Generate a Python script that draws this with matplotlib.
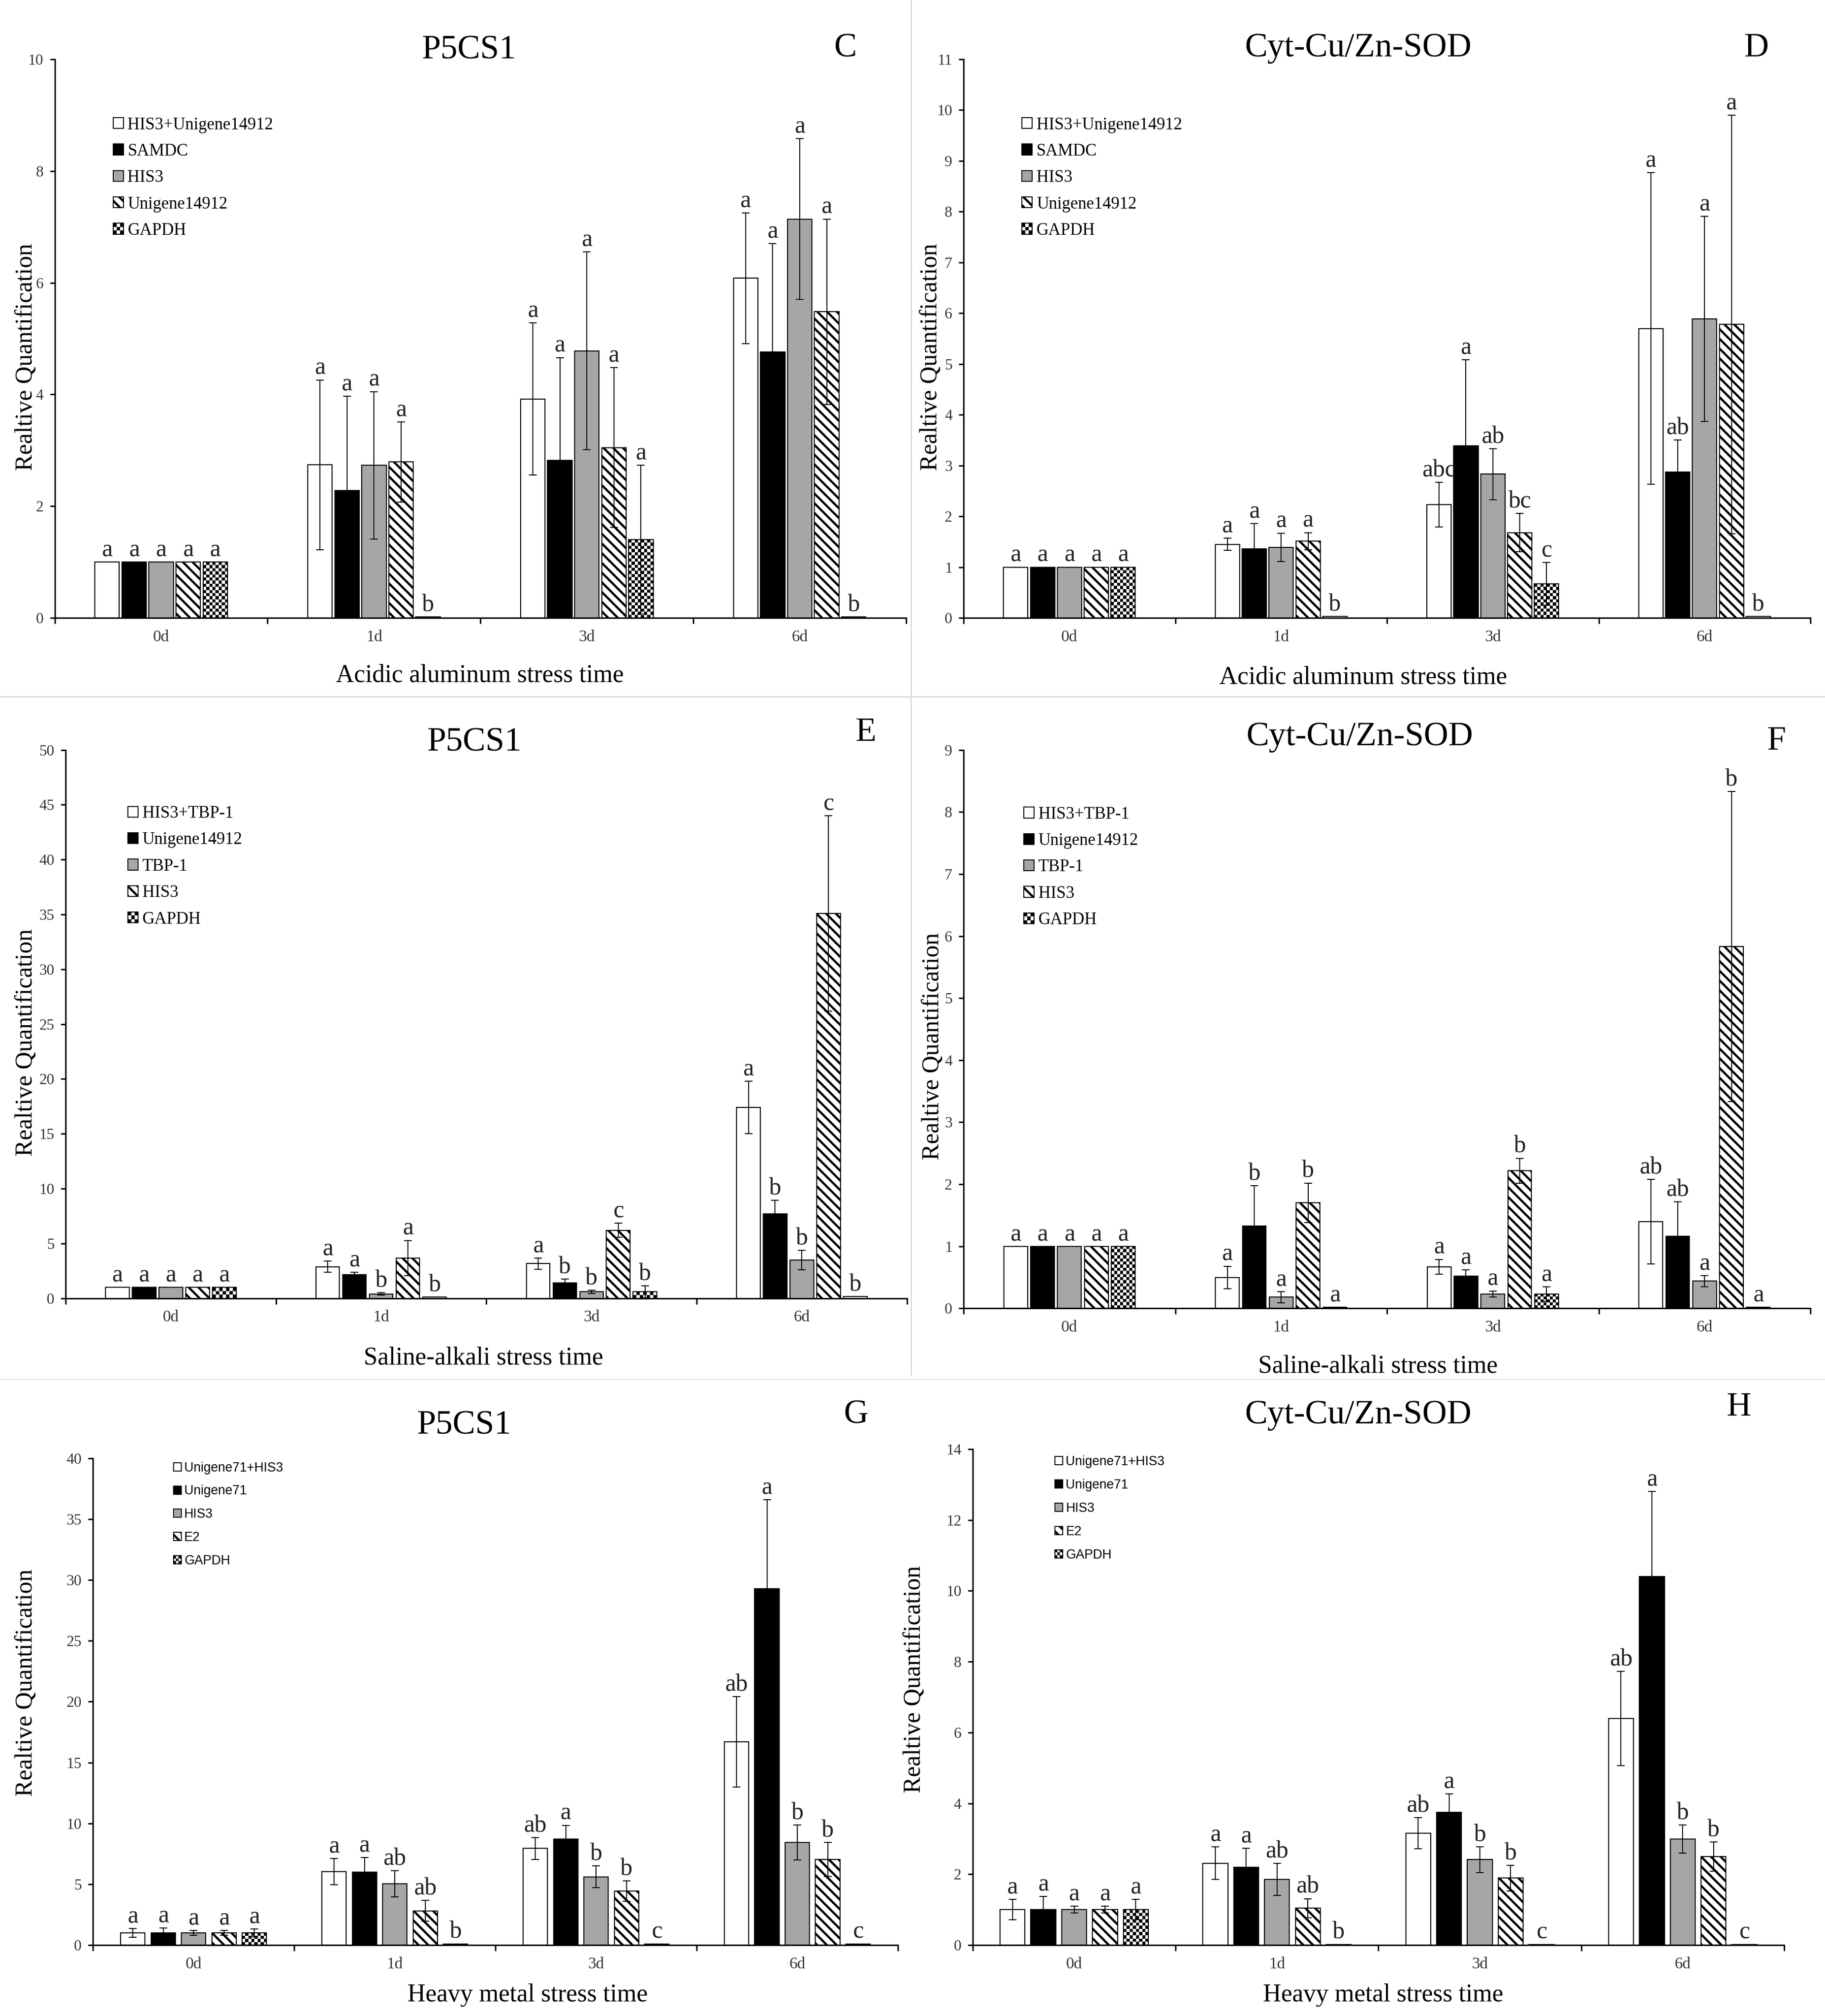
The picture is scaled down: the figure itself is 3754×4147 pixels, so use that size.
import numpy as np
import matplotlib
matplotlib.use("Agg")
import matplotlib.pyplot as plt
from matplotlib.patches import Patch, Rectangle
from matplotlib.lines import Line2D
from matplotlib.legend_handler import HandlerBase

plt.rcParams['font.family'] = ['Liberation Serif', 'DejaVu Serif']
plt.rcParams['hatch.linewidth'] = 2.7
plt.rcParams['hatch.color'] = 'black'

times = ["0d", "1d", "3d", "6d"]

# series order in every panel: white, black, gray, striped, checked
names_al = ["HIS3+Unigene14912", "SAMDC", "HIS3", "Unigene14912", "GAPDH"]
names_sa = ["HIS3+TBP-1", "Unigene14912", "TBP-1", "HIS3", "GAPDH"]
names_hm = ["Unigene71+HIS3", "Unigene71", "HIS3", "E2", "GAPDH"]

# C: P5CS1, acidic aluminum
c_vals = [[1.0, 2.74, 3.92, 6.08],
          [1.0, 2.28, 2.82, 4.76],
          [1.0, 2.73, 4.78, 7.14],
          [1.0, 2.79, 3.05, 5.48],
          [1.0, 0.02, 1.40, 0.02]]
c_err = [[0, 1.52, 1.36, 1.17],
         [0, 1.69, 1.84, 1.94],
         [0, 1.32, 1.77, 1.44],
         [0, 0.72, 1.43, 1.66],
         [0, 0, 1.33, 0]]
c_let = [["a", "a", "a", "a"],
         ["a", "a", "a", "a"],
         ["a", "a", "a", "a"],
         ["a", "a", "a", "a"],
         ["a", "b", "a", "b"]]

# D: Cyt-Cu/Zn-SOD, acidic aluminum
d_vals = [[1.0, 1.45, 2.23, 5.70],
          [1.0, 1.36, 3.39, 2.87],
          [1.0, 1.39, 2.83, 5.89],
          [1.0, 1.51, 1.68, 5.78],
          [1.0, 0.03, 0.67, 0.03]]
d_err = [[0, 0.12, 0.44, 3.07],
         [0, 0.50, 1.69, 0.63],
         [0, 0.28, 0.50, 2.02],
         [0, 0.17, 0.38, 4.12],
         [0, 0, 0.42, 0]]
d_let = [["a", "a", "abc", "a"],
         ["a", "a", "a", "ab"],
         ["a", "a", "ab", "a"],
         ["a", "a", "bc", "a"],
         ["a", "b", "c", "b"]]

# E: P5CS1, saline-alkali
e_vals = [[1.0, 2.88, 3.16, 17.4],
          [1.0, 2.16, 1.40, 7.7],
          [1.0, 0.40, 0.60, 3.48],
          [1.0, 3.68, 6.2, 35.1],
          [1.0, 0.10, 0.60, 0.15]]
e_err = [[0, 0.5, 0.5, 2.4],
         [0, 0.2, 0.36, 1.25],
         [0, 0.1, 0.15, 0.9],
         [0, 1.6, 0.65, 8.9],
         [0, 0, 0.55, 0]]
e_let = [["a", "a", "a", "a"],
         ["a", "a", "b", "b"],
         ["a", "b", "b", "b"],
         ["a", "a", "c", "c"],
         ["a", "b", "b", "b"]]

# F: Cyt-Cu/Zn-SOD, saline-alkali
f_vals = [[1.0, 0.50, 0.67, 1.40],
          [1.0, 1.33, 0.52, 1.16],
          [1.0, 0.18, 0.23, 0.44],
          [1.0, 1.70, 2.22, 5.83],
          [1.0, 0.02, 0.23, 0.02]]
f_err = [[0, 0.18, 0.12, 0.68],
         [0, 0.65, 0.10, 0.56],
         [0, 0.09, 0.05, 0.09],
         [0, 0.32, 0.20, 2.5],
         [0, 0, 0.12, 0]]
f_let = [["a", "a", "a", "ab"],
         ["a", "b", "a", "ab"],
         ["a", "a", "a", "a"],
         ["a", "b", "b", "b"],
         ["a", "a", "a", "a"]]

# G: P5CS1, heavy metal
g_vals = [[1.0, 6.03, 7.94, 16.7],
          [1.0, 6.0, 8.71, 29.3],
          [1.0, 5.03, 5.6, 8.44],
          [1.0, 2.81, 4.42, 7.03],
          [1.0, 0.1, 0.1, 0.1]]
g_err = [[0.35, 1.07, 0.9, 3.7],
         [0.4, 1.2, 1.14, 7.3],
         [0.2, 1.07, 0.9, 1.44],
         [0.2, 0.87, 0.84, 1.4],
         [0.3, 0, 0, 0]]
g_let = [["a", "a", "ab", "ab"],
         ["a", "a", "a", "a"],
         ["a", "ab", "b", "b"],
         ["a", "ab", "b", "b"],
         ["a", "b", "c", "c"]]

# H: Cyt-Cu/Zn-SOD, heavy metal
h_vals = [[1.0, 2.31, 3.16, 6.39],
          [1.0, 2.19, 3.75, 10.4],
          [1.0, 1.85, 2.41, 2.99],
          [1.0, 1.04, 1.89, 2.50],
          [1.0, 0.02, 0.02, 0.02]]
h_err = [[0.29, 0.46, 0.44, 1.33],
         [0.37, 0.54, 0.52, 2.4],
         [0.1, 0.45, 0.36, 0.4],
         [0.1, 0.27, 0.36, 0.41],
         [0.29, 0, 0, 0]]
h_let = g_let

fills = ["white", "black", "#a6a6a6", "white", "white"]
hatches = [None, None, None, "\\\\", None]

W, H = 3754, 4147
fig = plt.figure(figsize=(W / 120, H / 120), dpi=120)
CELL = 6.5  # checker square, px


class CheckerHandler(HandlerBase):
    # little 3x3 checker square for the GAPDH legend entry
    def create_artists(self, legend, orig_handle, xdescent, ydescent,
                       width, height, fontsize, trans):
        arts = []
        n = 3
        for a in range(n):
            for b in range(n):
                fc = "black" if (a + b) % 2 == 0 else "white"
                arts.append(Rectangle((-xdescent + a * width / n, -ydescent + b * height / n),
                                      width / n, height / n, facecolor=fc,
                                      edgecolor="none", transform=trans))
        arts.append(Rectangle((-xdescent, -ydescent), width, height,
                              facecolor="none", edgecolor="black", lw=1.2,
                              transform=trans))
        return arts


def panel(rect, vals, errs, lets, ymax, ystep, names, title, tag, xlab,
          title_xy, tag_xy, xlab_xy, ylab_xy, leg_xy, width, pitch,
          leg_font, leg_size, leg_space):
    ax = fig.add_axes(rect)
    x = np.arange(len(times)) + 0.5
    px_w = rect[2] * W / 4 * width
    for i in range(5):
        xs = x + (i - 2) * pitch
        if i == 4:
            for j in range(len(times)):
                px_h = vals[i][j] / ymax * rect[3] * H
                ny = int(round(px_h / CELL))
                nx = int(round(px_w / CELL))
                if ny >= 2:
                    board = np.indices((ny, nx)).sum(axis=0) % 2
                    ax.imshow(board, cmap="gray", vmin=0, vmax=1, origin="lower",
                              extent=(xs[j] - width / 2, xs[j] + width / 2, 0, vals[i][j]),
                              aspect="auto", interpolation="nearest", zorder=2)
            ax.bar(xs, vals[i], width, facecolor="none", edgecolor="black",
                   linewidth=1.3, zorder=2.2)
        else:
            ax.bar(xs, vals[i], width, color=fills[i], edgecolor="black",
                   hatch=hatches[i], linewidth=1.3, zorder=2)
        e = np.array(errs[i], dtype=float)
        m = e > 0
        ax.errorbar(xs[m], np.array(vals[i])[m], yerr=e[m], fmt="none",
                    ecolor="black", elinewidth=1.2, capsize=5, capthick=1.2,
                    zorder=3)
        for j in range(len(times)):
            ax.annotate(lets[i][j], (xs[j], vals[i][j] + errs[i][j]),
                        xytext=(0, 7), textcoords="offset points",
                        ha="center", va="baseline", fontsize=30, color="#222222")
    ax.set_xlim(0, 4)
    ax.set_ylim(0, ymax)
    ax.set_yticks(np.arange(0, ymax + 0.001, ystep))
    ax.set_yticklabels([f"{v:g}" for v in np.arange(0, ymax + 0.001, ystep)])
    ax.set_xticks([0, 1, 2, 3, 4])
    ax.set_xticklabels([])
    ax.set_xticks(x, minor=True)
    ax.set_xticklabels(times, minor=True)
    ax.tick_params(axis="x", which="minor", length=0, pad=14.5, labelsize=20,
                   labelcolor="#333333")
    ax.tick_params(axis="x", which="major", length=7, width=1.8, direction="out")
    ax.tick_params(axis="y", length=6, width=1.8, direction="out", pad=8,
                   labelsize=19, labelcolor="#333333")
    for s in ["top", "right"]:
        ax.spines[s].set_visible(False)
    for s in ["left", "bottom"]:
        ax.spines[s].set_linewidth(1.8)
    fig.text(title_xy[0], title_xy[1], title, fontsize=42, ha="center", va="center")
    fig.text(tag_xy[0], tag_xy[1], tag, fontsize=42, ha="center", va="center")
    fig.text(xlab_xy[0], xlab_xy[1], xlab, fontsize=31, ha="center", va="center")
    fig.text(ylab_xy[0], ylab_xy[1], "Realtive Quantification", fontsize=30,
             ha="center", va="center", rotation=90)
    handles = [Patch(facecolor=fills[i], edgecolor="black", hatch=hatches[i],
                     linewidth=1.2) for i in range(5)]
    ax.legend(handles, names, loc="upper left", bbox_to_anchor=leg_xy,
              bbox_transform=fig.transFigure, frameon=False, borderpad=0,
              borderaxespad=0, handlelength=0.6, handleheight=0.6,
              handletextpad=0.25, labelspacing=leg_space,
              handler_map={handles[4]: CheckerHandler()},
              prop={"family": leg_font, "size": leg_size})
    return ax


serif = ["Liberation Serif", "DejaVu Serif"]
narrow = ["Liberation Sans Narrow", "Liberation Sans", "DejaVu Sans"]

panel([0.030, 0.6935, 0.4665, 0.2771], c_vals, c_err, c_let, 10, 2, names_al,
      "P5CS1", "C", "Acidic aluminum stress time",
      (0.257, 0.975), (0.463, 0.976), (0.263, 0.665), (0.0144, 0.823),
      (0.062, 0.942), 0.115, 0.127, serif, 21, 0.61)
panel([0.528, 0.6935, 0.464, 0.2771], d_vals, d_err, d_let, 11, 1, names_al,
      "Cyt-Cu/Zn-SOD", "D", "Acidic aluminum stress time",
      (0.744, 0.976), (0.9625, 0.976), (0.747, 0.664), (0.510, 0.823),
      (0.560, 0.942), 0.115, 0.127, serif, 21, 0.61)
panel([0.036, 0.356, 0.461, 0.272], e_vals, e_err, e_let, 50, 5, names_sa,
      "P5CS1", "E", "Saline-alkali stress time",
      (0.260, 0.6317), (0.4745, 0.6366), (0.265, 0.3265), (0.0144, 0.483),
      (0.070, 0.6004), 0.112, 0.127, serif, 21, 0.61)
panel([0.528, 0.351, 0.464, 0.277], f_vals, f_err, f_let, 9, 1, names_sa,
      "Cyt-Cu/Zn-SOD", "F", "Saline-alkali stress time",
      (0.745, 0.6344), (0.9736, 0.6323), (0.755, 0.3222), (0.511, 0.481),
      (0.561, 0.600), 0.112, 0.127, serif, 21, 0.61)
panel([0.051, 0.0352, 0.441, 0.2414], g_vals, g_err, g_let, 40, 5, names_hm,
      "P5CS1", "G", "Heavy metal stress time",
      (0.2545, 0.2929), (0.469, 0.298), (0.289, 0.0104), (0.0144, 0.1654),
      (0.095, 0.275), 0.121, 0.151, narrow, 16, 0.82)
panel([0.533, 0.0352, 0.4446, 0.246], h_vals, h_err, h_let, 14, 2, names_hm,
      "Cyt-Cu/Zn-SOD", "H", "Heavy metal stress time",
      (0.744, 0.298), (0.953, 0.3019), (0.758, 0.0104), (0.501, 0.167),
      (0.578, 0.278), 0.123, 0.152, narrow, 16, 0.82)

# thin separators between panels
fig.add_artist(Line2D([0.4993, 0.4993], [0.318, 1.0], transform=fig.transFigure,
                      color="#d6d6d6", lw=1.5))
fig.add_artist(Line2D([0.0, 1.0], [0.6545, 0.6545], transform=fig.transFigure,
                      color="#d6d6d6", lw=1.5))
fig.add_artist(Line2D([0.0, 1.0], [0.316, 0.316], transform=fig.transFigure,
                      color="#e4e4e4", lw=1.5))

fig.savefig("out.png", dpi=120, facecolor="white")
